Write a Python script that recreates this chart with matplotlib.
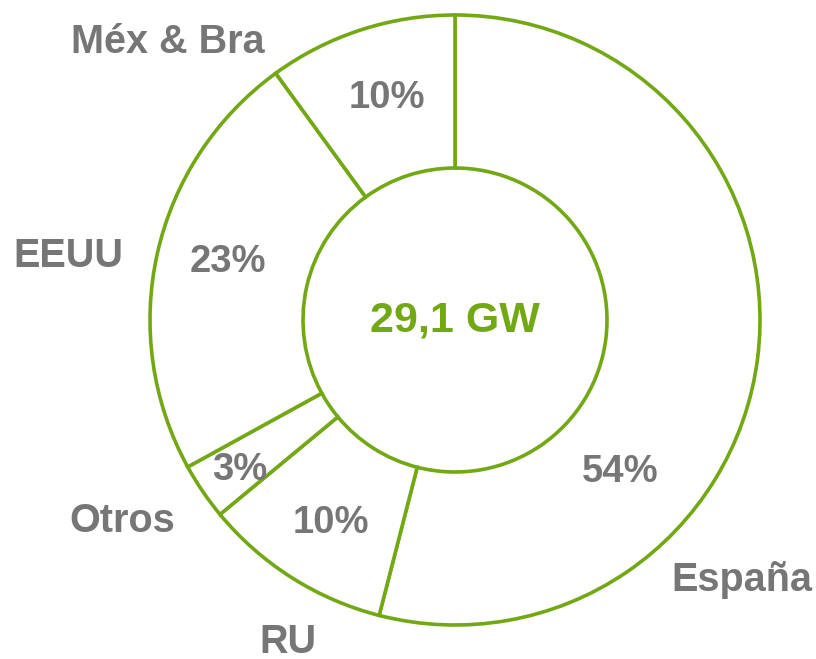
import matplotlib.pyplot as plt

# share of installed capacity by market
markets = ['España', 'RU', 'Otros', 'EEUU', 'Méx & Bra']
shares = [54, 10, 3, 23, 10]
total_label = '29,1 GW'

green = '#73A815'
grey = '#767676'

# label positions in pixel space (x, y from top)
name_pos = [(742, 580), (288, 642), (122, 521), (68, 256), (168, 42)]
pct_pos = [(620, 472), (331, 523), (240, 470), (228, 262), (387, 98)]

W, H = 816, 659
fig = plt.figure(figsize=(W / 100, H / 100), dpi=100)
ax = fig.add_axes([0, 0, 1, 1])

cx, cy, r_out, r_in = 455, H - 320, 305, 152
ax.pie(shares, center=(cx, cy), radius=r_out, startangle=90, counterclock=False,
       colors=['white'] * len(shares), frame=True,
       wedgeprops=dict(width=r_out - r_in, edgecolor=green, linewidth=2.6))
ax.set_xlim(0, W)
ax.set_ylim(0, H)
ax.set_aspect('equal')
ax.axis('off')

font = ['Liberation Sans', 'DejaVu Sans']
for name, (x, y) in zip(markets, name_pos):
    ax.text(x, H - y, name, ha='center', va='center', fontsize=28.5,
            fontweight='bold', color=grey, family=font)
for s, (x, y) in zip(shares, pct_pos):
    ax.text(x, H - y, f'{s}%', ha='center', va='center', fontsize=27.5,
            fontweight='bold', color=grey, family=font)

ax.text(cx, cy, total_label, ha='center', va='center', fontsize=31,
        fontweight='bold', color=green, family=font)

fig.savefig('out.png', dpi=100, facecolor='white')
